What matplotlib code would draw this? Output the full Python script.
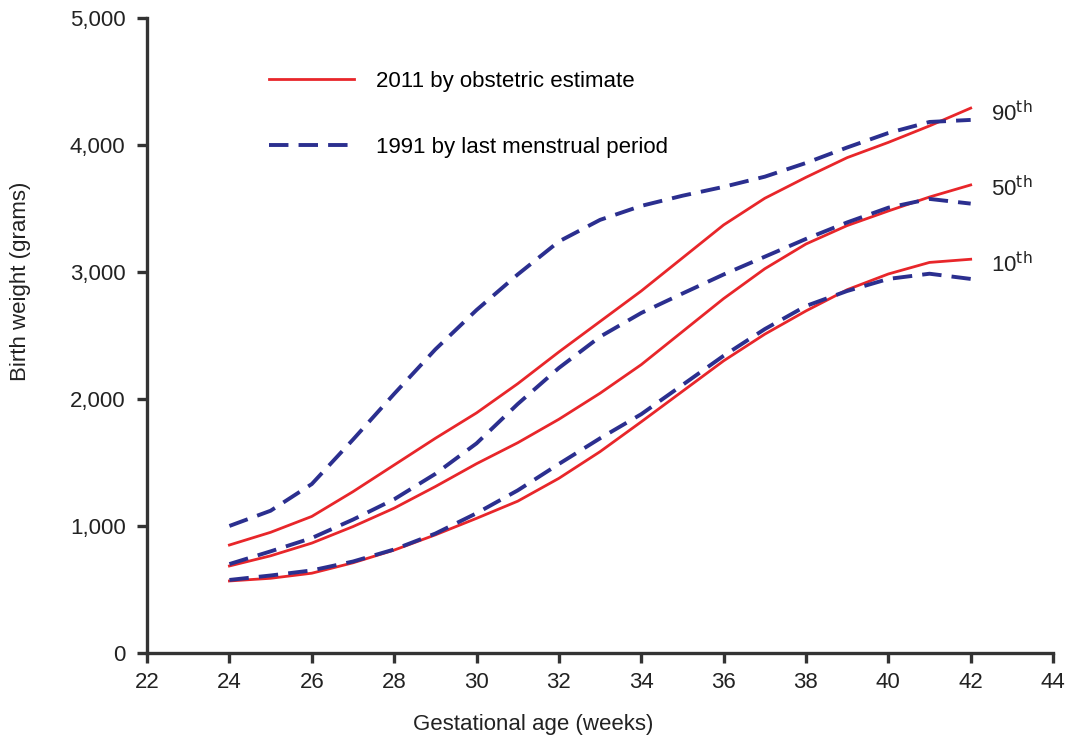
import matplotlib.pyplot as plt
from matplotlib.ticker import FuncFormatter

plt.rcParams['font.family'] = ['Liberation Sans', 'DejaVu Sans']

weeks = [24, 25, 26, 27, 28, 29, 30, 31, 32, 33, 34, 35, 36, 37, 38, 39, 40, 41, 42]

# 2011, obstetric estimate
p90_2011 = [850, 950, 1075, 1270, 1480, 1690, 1890, 2120, 2370, 2610, 2850, 3110, 3370, 3580, 3745, 3900, 4020, 4150, 4290]
p50_2011 = [685, 765, 865, 995, 1140, 1310, 1490, 1655, 1840, 2045, 2270, 2530, 2790, 3025, 3220, 3365, 3480, 3590, 3685]
p10_2011 = [567, 588, 628, 710, 810, 930, 1060, 1195, 1375, 1585, 1820, 2060, 2300, 2510, 2693, 2860, 2984, 3075, 3100]

# 1991, last menstrual period
p90_1991 = [1000, 1120, 1330, 1680, 2040, 2390, 2700, 2980, 3240, 3410, 3520, 3600, 3670, 3750, 3858, 3980, 4094, 4181, 4197]
p50_1991 = [700, 800, 905, 1050, 1210, 1410, 1650, 1960, 2244, 2490, 2677, 2830, 2980, 3120, 3260, 3390, 3506, 3575, 3538]
p10_1991 = [575, 610, 650, 720, 815, 940, 1100, 1280, 1488, 1690, 1880, 2110, 2340, 2550, 2732, 2850, 2945, 2986, 2945]

pct_labels = ['90$^{\\rm th}$', '50$^{\\rm th}$', '10$^{\\rm th}$']
pct_pos = [4250, 3660, 3060]

red = '#e8262a'
blue = '#2b2f8f'
dash = (0, (5, 2.6))
txt = '#222222'

fig = plt.figure(figsize=(10.68, 7.41), dpi=100)
ax = fig.add_axes([0.1377, 0.1188, 0.8483, 0.857])

ax.plot(weeks, p90_2011, color=red, lw=2, label='2011 by obstetric estimate')
ax.plot(weeks, p50_2011, color=red, lw=2)
ax.plot(weeks, p10_2011, color=red, lw=2)
ax.plot(weeks, p90_1991, color=blue, lw=2.8, ls=dash, label='1991 by last menstrual period')
ax.plot(weeks, p50_1991, color=blue, lw=2.8, ls=dash)
ax.plot(weeks, p10_1991, color=blue, lw=2.8, ls=dash)

for lab, yv in zip(pct_labels, pct_pos):
    ax.text(42.5, yv, lab, fontsize=16, color=txt, va='center', ha='left')

ax.set_xlim(22, 44)
ax.set_ylim(0, 5000)
ax.set_xticks(range(22, 45, 2))
ax.set_yticks(range(0, 5001, 1000))
ax.yaxis.set_major_formatter(FuncFormatter(lambda v, p: f'{int(v):,}'))

for s in ['top', 'right']:
    ax.spines[s].set_visible(False)
for s in ['left', 'bottom']:
    ax.spines[s].set_color('#333333')
    ax.spines[s].set_linewidth(2.4)
ax.tick_params(direction='out', length=7.5, width=2.4, color='#333333',
               labelsize=16, labelcolor=txt)
ax.tick_params(axis='x', pad=6)
ax.tick_params(axis='y', pad=8)

# labels in the original sit off-centre
ax.set_xlabel('Gestational age (weeks)', fontsize=16, color=txt, labelpad=15, x=0.426)
ax.set_ylabel('Birth weight (grams)', fontsize=16, color=txt, labelpad=28, y=0.586)

ax.legend(loc='upper left', bbox_to_anchor=(0.1347, 0.916), frameon=False,
          borderpad=0, borderaxespad=0,
          fontsize=16, handlelength=3.8, handletextpad=1.0, labelspacing=2.0)

plt.savefig('out.png')
plt.close()
